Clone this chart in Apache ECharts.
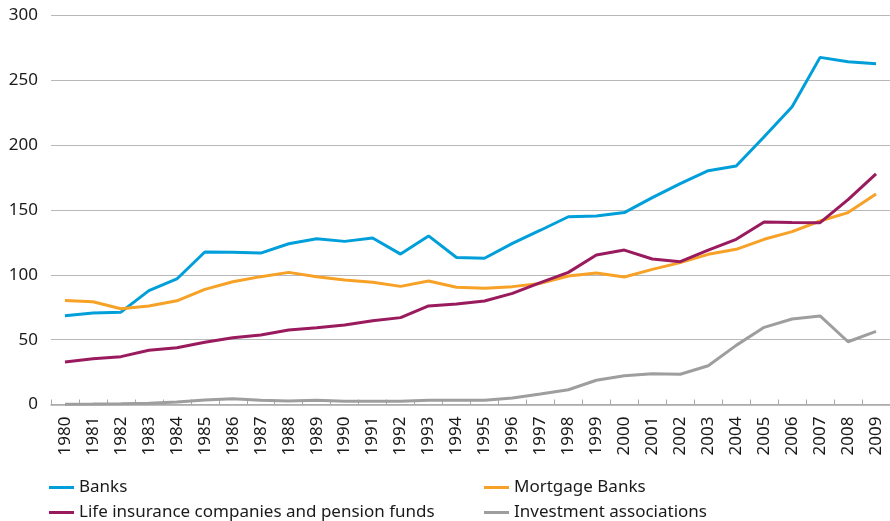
<!DOCTYPE html>
<html>

<head>
    <meta charset="utf-8" />
    <script src="https://cdn.jsdelivr.net/npm/echarts@6/dist/echarts.min.js"></script>
</head>

<body style="margin:0;">
    <div id="main" style="width: 890px; height:521px;"></div>
    <script type="text/javascript">
        // 年份
        var years = ['1980', '1981', '1982', '1983', '1984', '1985', '1986', '1987', '1988', '1989',
            '1990', '1991', '1992', '1993', '1994', '1995', '1996', '1997', '1998', '1999',
            '2000', '2001', '2002', '2003', '2004', '2005', '2006', '2007', '2008', '2009'];

        var banks = [68.5, 70.5, 71.2, 87.8, 96.8, 117.6, 117.4, 116.8, 124, 127.8,
            125.8, 128.4, 116, 130, 113.4, 112.8, 124.3, 134.4, 144.8, 145.4,
            148, 159.5, 170.4, 180.3, 184, 206.5, 229.7, 267.7, 264.4, 262.8];

        var mortgage = [80.3, 79.3, 73.9, 76, 80, 88.8, 94.7, 98.6, 101.9, 98.6,
            96, 94.2, 91.1, 95.2, 90.4, 89.6, 90.9, 93.4, 99.1, 101.4,
            98.3, 104.2, 109.4, 115.8, 119.7, 127.4, 133.3, 141.5, 148, 162.3];

        var lifeIns = [32.8, 35.3, 36.9, 41.8, 43.8, 48, 51.5, 53.6, 57.5, 59.2,
            61.3, 64.6, 67, 76, 77.5, 79.8, 85.7, 94, 101.9, 115.3,
            119.1, 112.2, 110.1, 119.1, 127.4, 140.7, 140.4, 140.2, 158, 177.8];

        var investment = [0.2, 0.3, 0.5, 1, 2, 3.5, 4.5, 3.2, 2.7, 3.2,
            2.5, 2.5, 2.5, 3.2, 3.2, 3.2, 5, 8.1, 11.4, 18.7,
            22.2, 23.8, 23.3, 29.9, 45.6, 59.5, 65.9, 68.3, 48.4, 56.4];

        var yTicks = [0, 50, 100, 150, 200, 250, 300];

        var names = ['Banks', 'Mortgage Banks', 'Life insurance companies and pension funds', 'Investment associations'];

        var myChart = echarts.init(document.getElementById('main'));

        var font = 'Noto Sans';

        // 图例: 每项单独定位, 两列两行
        function legendItem(name, left, top) {
            return {
                data: [name],
                left: left,
                top: top,
                padding: 0,
                icon: 'rect',
                itemWidth: 25,
                itemHeight: 3,
                textStyle: {
                    fontFamily: font,
                    fontSize: 17,
                    color: '#1a1a1a'
                }
            };
        }

        var option = {
            animation: false,
            backgroundColor: '#fff',
            legend: [
                legendItem(names[0], 49, 479),
                legendItem(names[2], 49, 504),
                legendItem(names[1], 484, 479),
                legendItem(names[3], 484, 504)
            ],
            grid: {
                top: 15.5,
                bottom: 116.5,
                left: 51,
                right: -4,
                containLabel: false
            },
            xAxis: {
                type: 'category',
                data: years,
                boundaryGap: true,
                axisLine: {
                    show: true,
                    lineStyle: { color: '#a8a8a8', width: 1.5 }
                },
                axisTick: {
                    show: true,
                    inside: true,
                    length: 5,
                    lineStyle: { color: '#a8a8a8' }
                },
                axisLabel: {
                    rotate: 90,
                    interval: 0,
                    margin: 12,
                    fontFamily: font,
                    fontSize: 17,
                    color: '#1a1a1a'
                }
            },
            yAxis: {
                type: 'value',
                min: yTicks[0],
                max: yTicks[yTicks.length - 1],
                interval: 50,
                axisLine: { show: false },
                axisTick: { show: false },
                axisLabel: {
                    margin: 13,
                    fontFamily: font,
                    fontSize: 17,
                    color: '#1a1a1a'
                },
                splitLine: {
                    show: true,
                    lineStyle: { color: '#b8b8b8', width: 1.2 }
                }
            },
            series: [
                {
                    name: names[0],
                    type: 'line',
                    data: banks,
                    color: '#009fda',
                    showSymbol: false,
                    lineStyle: { width: 3 }
                },
                {
                    name: names[1],
                    type: 'line',
                    data: mortgage,
                    color: '#f7a127',
                    showSymbol: false,
                    lineStyle: { width: 3 }
                },
                {
                    name: names[2],
                    type: 'line',
                    data: lifeIns,
                    color: '#9a1a5e',
                    showSymbol: false,
                    lineStyle: { width: 3 }
                },
                {
                    name: names[3],
                    type: 'line',
                    data: investment,
                    color: '#9e9e9e',
                    showSymbol: false,
                    lineStyle: { width: 3 }
                }
            ]
        };

        myChart.setOption(option);
    </script>
</body>

</html>
